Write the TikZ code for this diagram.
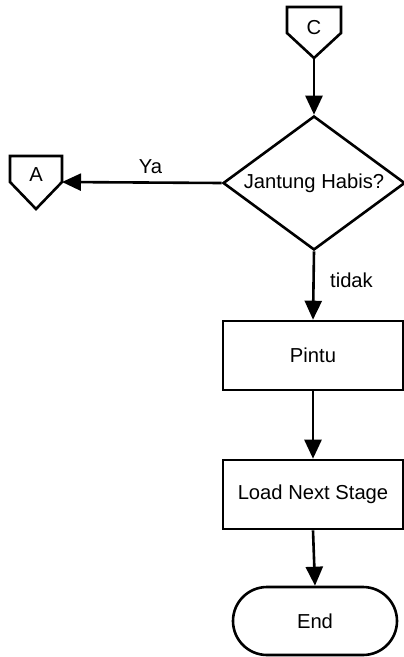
\documentclass[tikz,border=0pt]{standalone}
\usepackage{fontspec}
\setmainfont{Liberation Sans}
\usetikzlibrary{arrows.meta,shapes.geometric}
\begin{document}
\begin{tikzpicture}[x=1pt,y=-1pt,
  every node/.style={font=\fontsize{20.2}{24}\selectfont},
  ln/.style={line width=2.6pt},
  arr/.style={ln,-{Triangle[length=19pt,width=17pt]}},
  procbox/.style={draw,ln,minimum width=180pt,minimum height=69pt,inner sep=0pt},
  decbox/.style={draw,ln,diamond,aspect=1.36,minimum width=182pt,minimum height=134pt,inner sep=0pt},
  termbox/.style={draw,ln,rounded corners=34pt,minimum width=164pt,minimum height=68pt,inner sep=0pt},
  lbl/.style={inner sep=0pt}
]
\useasboundingbox (0,0) rectangle (404,657);
% off-page connector C
\draw[ln,line join=miter] (287,7) -- (341,7) -- (341,33) -- (314,58) -- (287,33) -- cycle;
\coordinate (cbot) at (314,58);
\node[lbl] (ctext) at (314,28) {C};
% off-page connector A
\draw[ln,line join=miter] (10,156) -- (62,156) -- (62,182) -- (36,209) -- (10,182) -- cycle;
\coordinate (aright) at (62,182);
\node[lbl] (atext) at (36,175) {A};
% nodes
\node[decbox] (dec) at (314,183) {Jantung Habis?};
\node[procbox] (pintu) at (313,355.5) {Pintu};
\node[procbox] (load) at (313,494.5) {Load Next Stage};
\node[termbox] (endn) at (315,621) {End};
% connectors
\draw[arr] (cbot) -- (dec.north);
\draw[arr] (dec.west) -- (aright);
\draw[arr] (dec.south) -- (pintu.north);
\draw[arr] (pintu.south) -- (load.north);
\draw[arr] (load.south) -- (endn.north);
% labels
\node[lbl] (ya) at (150.5,167) {Ya};
\node[lbl] (tidak) at (351.5,280) {tidak};
\end{tikzpicture}
\end{document}
